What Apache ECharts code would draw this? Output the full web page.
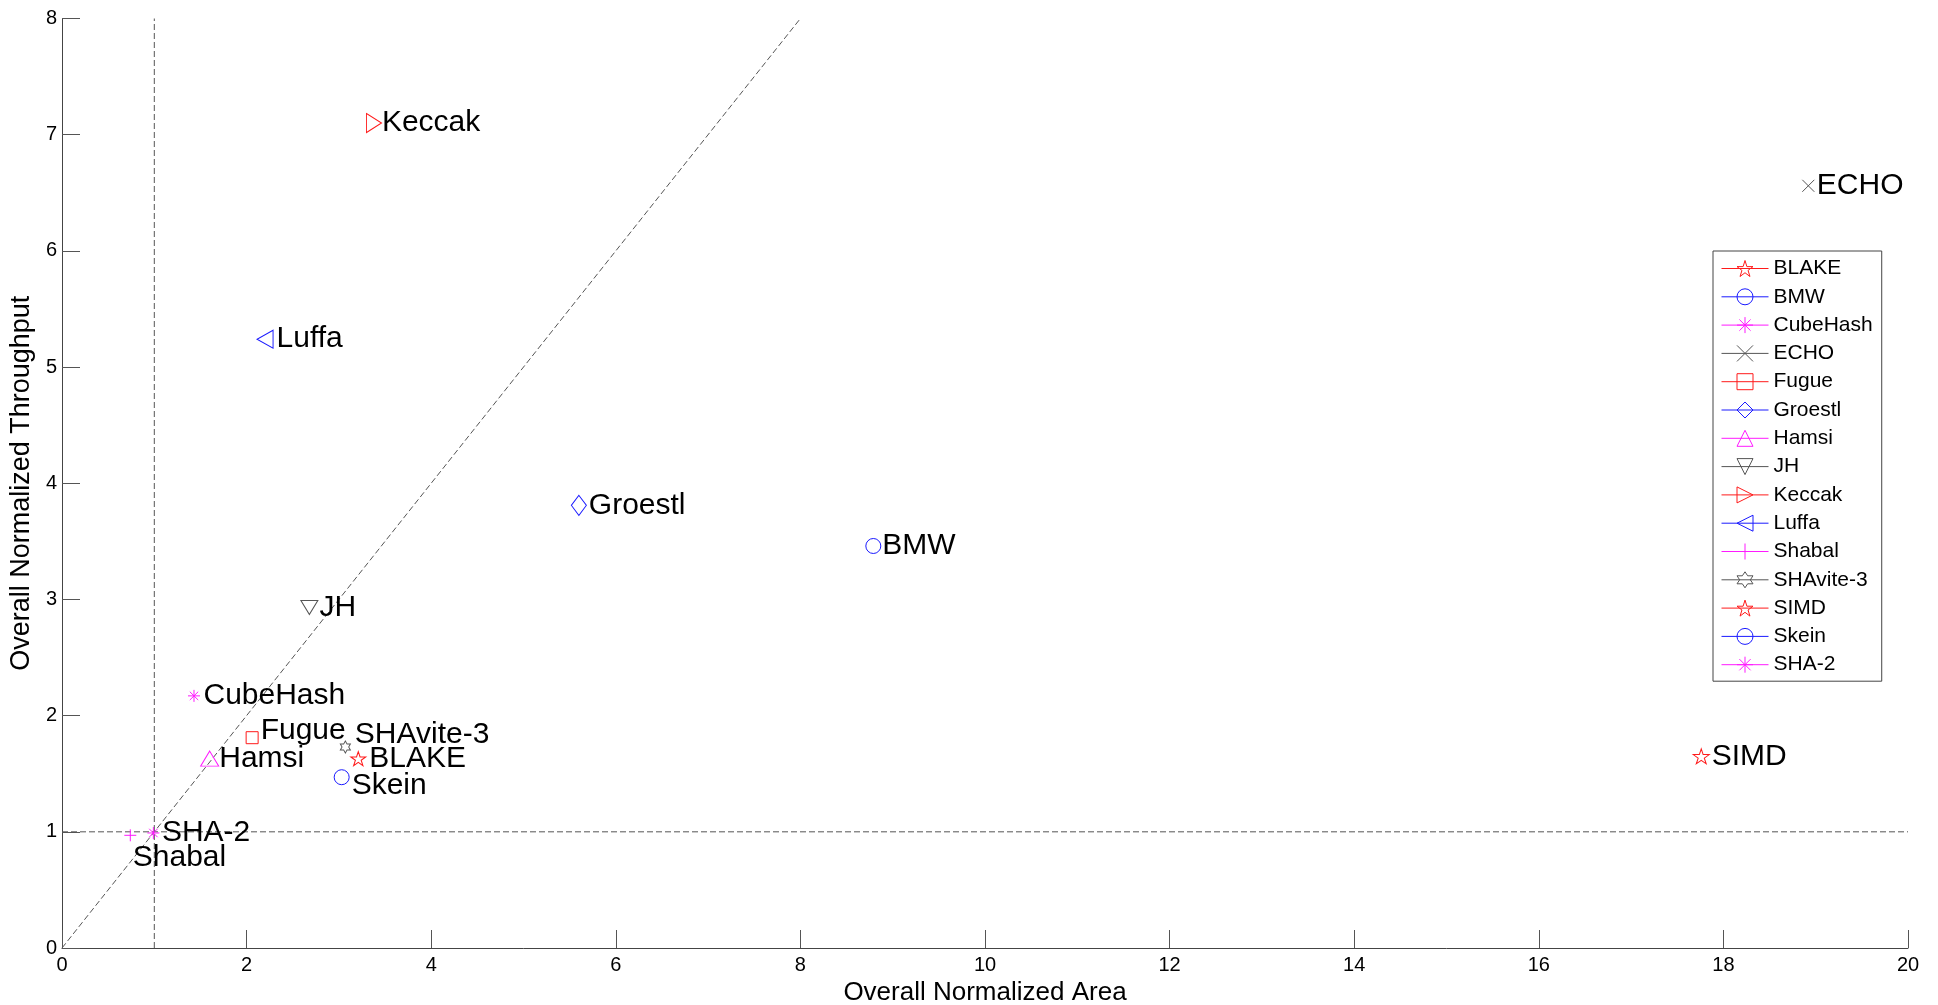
<!DOCTYPE html>
<html><head><meta charset="utf-8">
<script src="https://cdn.jsdelivr.net/npm/echarts@6/dist/echarts.min.js"></script>
<style>html,body{margin:0;padding:0;background:#fff}#c{width:1938px;height:1005px}</style>
</head><body><div id="c"></div>
<script>
// ---- data ----
const names = ['BLAKE','BMW','CubeHash','ECHO','Fugue','Groestl','Hamsi','JH','Keccak','Luffa','Shabal','SHAvite-3','SIMD','Skein','SHA-2'];
const areaValues = [3.21, 8.79, 1.43, 18.92, 2.06, 5.60, 1.60, 2.68, 3.38, 2.20, 0.74, 3.07, 17.76, 3.03, 0.99];
const throughputValues = [1.63, 3.46, 2.17, 6.56, 1.81, 3.81, 1.63, 2.93, 7.10, 5.24, 0.97, 1.73, 1.65, 1.47, 0.99];
const diagLine = [[0, 0], [8, 8]];
const hLine = [[0, 1], [20, 1]];
const vLine = [[1, 0], [1, 8]];
const xAxisRange = [0, 20, 2];
const yAxisRange = [0, 8, 1];

// ---- styles ----
const RED = '#ff1a1a', BLUE = '#1a1aff', MAG = '#ff1aff', BLK = '#555555';
const P = {
  pent: 'path://M50 0 L61.23 34.55 L97.55 34.55 L68.17 55.9 L79.39 90.45 L50 69.1 L20.61 90.45 L31.83 55.9 L2.45 34.55 L38.77 34.55 Z',
  hexa: 'path://M50 0 L64.43 25 L93.3 25 L78.87 50 L93.3 75 L64.43 75 L50 100 L35.57 75 L6.7 75 L21.13 50 L6.7 25 L35.57 25 Z',
  ast: 'path://M50 0 L50 100 M0 50 L100 50 M15 15 L85 85 M85 15 L15 85',
  x: 'path://M0 0 L100 100 M100 0 L0 100',
  plus: 'path://M50 0 L50 100 M0 50 L100 50',
  square: 'path://M0 0 L100 0 L100 100 L0 100 Z',
  diamond: 'path://M50 0 L100 50 L50 100 L0 50 Z',
  up: 'path://M50 0 L100 100 L0 100 Z',
  down: 'path://M0 0 L100 0 L50 100 Z',
  right: 'path://M0 0 L100 50 L0 100 Z',
  left: 'path://M100 0 L0 50 L100 100 Z',
  circle: 'circle'
};
const styleOf = {
  'BLAKE':     {c: RED,  s: P.pent,    z: [15, 14], d: 3, o: [0, 0]},
  'BMW':       {c: BLUE, s: P.circle,  z: [15, 15], d: 1, o: [0, 0]},
  'CubeHash':  {c: MAG,  s: P.ast,     z: [12, 12], d: 3, o: [0, 0]},
  'ECHO':      {c: BLK,  s: P.x,       z: [12, 12], d: 2, o: [0, 0]},
  'Fugue':     {c: RED,  s: P.square,  z: [12, 12], d: 2, o: [0, -7]},
  'Groestl':   {c: BLUE, s: P.diamond, z: [15, 20], d: 2, o: [0, 0]},
  'Hamsi':     {c: MAG,  s: P.up,      z: [18, 15], d: 0, o: [0, 0]},
  'JH':        {c: BLK,  s: P.down,    z: [17, 14], d: 1, o: [0, 0]},
  'Keccak':    {c: RED,  s: P.right,   z: [15, 19], d: 0, o: [0, 0]},
  'Luffa':     {c: BLUE, s: P.left,    z: [16, 18], d: 3, o: [0, 0]},
  'Shabal':    {c: MAG,  s: P.plus,    z: [12, 12], d: 0, o: [-4, 22]},
  'SHAvite-3': {c: BLK,  s: P.hexa,    z: [10, 12], d: 4, o: [0, -12]},
  'SIMD':      {c: RED,  s: P.pent,    z: [16, 15], d: 2, o: [0, 0]},
  'Skein':     {c: BLUE, s: P.circle,  z: [15, 15], d: 2, o: [0, 9]},
  'SHA-2':     {c: MAG,  s: P.ast,     z: [12, 12], d: 2, o: [0, 0]}
};
const FONT = '"Liberation Sans", Arial, Helvetica, sans-serif';

const refStyle = {color: '#555', width: 1, type: [6, 3]};
const refSeries = [diagLine, hLine, vLine].map((d, i) => ({
  name: 'ref' + i, type: 'line', data: d, symbol: 'none', silent: true,
  lineStyle: refStyle, z: 1, animation: false
}));

const pointSeries = names.map((n, i) => {
  const st = styleOf[n];
  return {
    name: n, type: 'line', data: [[areaValues[i], throughputValues[i]]],
    symbol: st.s, symbolSize: st.z, showSymbol: true, z: 3, animation: false,
    itemStyle: {color: 'rgba(255,255,255,0)', borderColor: st.c, borderWidth: 1},
    lineStyle: {color: st.c, width: 1},
    label: {show: true, formatter: n, position: 'right', distance: st.d, offset: st.o,
            fontSize: 30, color: '#000', fontFamily: FONT},
    emphasis: {disabled: true}
  };
});

const chart = echarts.init(document.getElementById('c'), null, {renderer: 'canvas'});
chart.setOption({
  backgroundColor: '#fff',
  animation: false,
  textStyle: {fontFamily: FONT},
  grid: {left: 62, right: 30, top: 18.5, bottom: 57, containLabel: false, outerBoundsMode: 'none'},
  xAxis: {
    type: 'value', min: xAxisRange[0], max: xAxisRange[1], interval: xAxisRange[2],
    name: 'Overall Normalized Area', nameLocation: 'middle', nameGap: 28,
    nameTextStyle: {fontSize: 26, color: '#000', fontFamily: FONT},
    axisLine: {lineStyle: {color: '#444', width: 1}},
    axisTick: {inside: true, length: 18, lineStyle: {color: '#555', width: 1}},
    axisLabel: {fontSize: 20, color: '#000', margin: 7, fontFamily: FONT, showMinLabel: true, showMaxLabel: true},
    splitLine: {show: false}
  },
  yAxis: {
    type: 'value', min: yAxisRange[0], max: yAxisRange[1], interval: yAxisRange[2],
    name: 'Overall Normalized Throughput', nameLocation: 'middle', nameGap: 25,
    nameTextStyle: {fontSize: 27, color: '#000', fontFamily: FONT},
    axisLine: {show: true, lineStyle: {color: '#444', width: 1}},
    axisTick: {show: true, inside: true, length: 18, lineStyle: {color: '#555', width: 1}},
    axisLabel: {fontSize: 20, color: '#000', margin: 5, fontFamily: FONT, showMinLabel: true, showMaxLabel: true},
    splitLine: {show: false}
  },
  legend: {
    data: names, orient: 'vertical', left: 1713, top: 251,
    padding: [7, 9, 6, 8], itemGap: 7.3, itemWidth: 47, itemHeight: 20,
    backgroundColor: '#fff', borderColor: '#444', borderWidth: 1, borderRadius: 0,
    textStyle: {fontSize: 21, color: '#000', fontFamily: FONT},
    itemStyle: {borderWidth: 1},
    lineStyle: {width: 1},
    selectedMode: false
  },
  series: refSeries.concat(pointSeries)
});
</script></body></html>
